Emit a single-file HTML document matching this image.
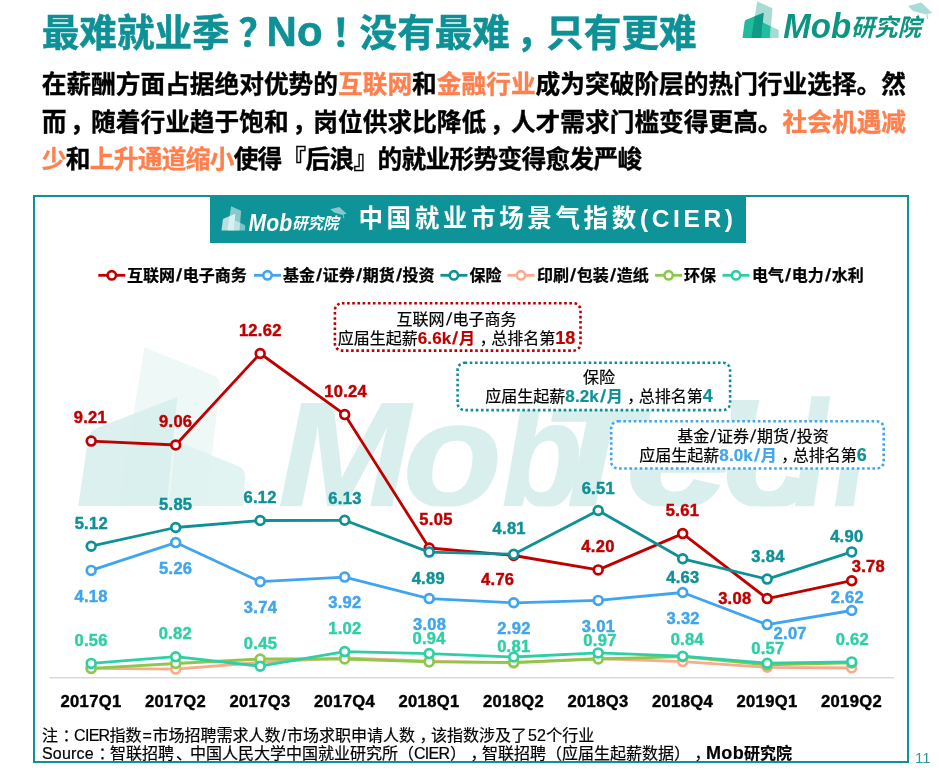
<!DOCTYPE html>
<html lang="zh-CN">
<head>
<meta charset="utf-8">
<title>最难就业季？No！没有最难，只有更难</title>
<style>
html,body{margin:0;padding:0;background:#fff;}
body{text-spacing-trim:space-all;width:939px;height:771px;position:relative;overflow:hidden;font-family:"Liberation Sans","Noto Sans CJK SC",sans-serif;color:#000;}
.abs{position:absolute;white-space:nowrap;}
#title{left:41.8px;top:4px;font-size:37.6px;font-weight:bold;color:#0e9196;line-height:56px;-webkit-text-stroke:0.5px #0e9196;}
.pu{position:relative;left:9px;}
#title .en{font-size:42px;margin-left:-0.7px;}
.p{left:41.7px;font-size:24.7px;font-weight:bold;line-height:36px;width:880px;-webkit-text-stroke:0.35px;}
.or{color:#ff7f4d;}
.pp{position:relative;left:3.6px;}
#frame{position:absolute;left:33px;top:195px;width:872px;height:564px;border:2.8px solid #0e9196;box-sizing:content-box;}
#banner{position:absolute;left:210.4px;top:195px;width:536px;height:47.6px;background:#0e9498;}
#btitle{left:358.4px;top:203px;font-size:24.5px;font-weight:bold;color:#fff;letter-spacing:3.65px;line-height:32px;}
.lg{top:265px;font-size:16px;font-weight:bold;line-height:22px;-webkit-text-stroke:0.25px;}
.sl{display:inline-block;width:7.8px;text-align:center;font-size:1.1em;line-height:1px;transform:skewX(-6deg);}
.note{left:42px;font-size:16px;line-height:20px;-webkit-text-stroke:0.2px;}
.ann{font-size:16px;line-height:19.2px;text-align:center;-webkit-text-stroke:0.2px;}
.ann b{font-weight:bold;}
.ann .n{font-size:17px;letter-spacing:0.1px;}
.ann .n2{font-size:18px;line-height:10px;}
.pc{position:relative;left:4.5px;}
#pn{left:915px;top:748.3px;font-size:15px;color:#2a9aa0;line-height:20px;}
svg{position:absolute;left:0;top:0;}
svg text{font-family:"Liberation Sans","Noto Sans CJK SC",sans-serif;}
</style>
</head>
<body>
<!-- watermark + chart -->
<svg width="939" height="771" viewBox="0 0 939 771">
  <clipPath id="wmclip"><rect x="0" y="300" width="939" height="206.3"/></clipPath>
  <g id="wm" clip-path="url(#wmclip)">
    <path d="M144.5 347.2 L213 375 Q220.5 378 220 386 L206 506 L118 506 Z" fill="#eef8f7"/>
    <path d="M98 427.6 L177.3 397 L167 506 L78.2 506 L88 439 Q89 431 98 427.6 Z" fill="#d6efec" fill-opacity="0.85"/>
    <path d="M175.5 440.5 L238 466 Q245.5 469 245.2 477 L243.4 506 L168.5 506 Z" fill="#ddf2ef" fill-opacity="0.85"/>
    <text transform="translate(0,505.8)" font-size="148" font-weight="bold" font-style="italic" fill="#d9efee" stroke="#d9efee" stroke-width="1.5"><tspan x="278" textLength="132" lengthAdjust="spacingAndGlyphs">M</tspan><tspan x="403" textLength="99" lengthAdjust="spacingAndGlyphs">o</tspan><tspan x="502" textLength="80" lengthAdjust="spacingAndGlyphs">b</tspan></text>
    <text transform="translate(0,505.8)" font-size="148" font-weight="bold" font-style="italic" fill="#d9efee" stroke="#d9efee" stroke-width="3.5"><tspan x="542" textLength="97.6" lengthAdjust="spacingAndGlyphs">T</tspan><tspan x="626.5" textLength="104" lengthAdjust="spacingAndGlyphs">e</tspan><tspan x="723.5" textLength="96" lengthAdjust="spacingAndGlyphs">c</tspan><tspan x="794.5" textLength="71" lengthAdjust="spacingAndGlyphs">h</tspan></text>
    <path d="M731 400 L759.5 400 L755 421 L731 421 Z" fill="#d9efee"/>
  </g>
  <line x1="49.5" y1="677.8" x2="894" y2="677.8" stroke="#d9d9d9" stroke-width="1.4"/>
  <g id="series">
<polyline points="91.2,441.1 175.7,445.0 260.2,353.5 344.7,414.6 429.2,548.0 513.7,555.5 598.2,569.9 682.7,533.6 767.2,598.6 851.7,580.7" fill="none" stroke="#c00000" stroke-width="2.8" stroke-linejoin="round"/>
<circle cx="91.2" cy="441.1" r="4.4" fill="#fff" stroke="#c00000" stroke-width="2.7"/>
<circle cx="175.7" cy="445.0" r="4.4" fill="#fff" stroke="#c00000" stroke-width="2.7"/>
<circle cx="260.2" cy="353.5" r="4.4" fill="#fff" stroke="#c00000" stroke-width="2.7"/>
<circle cx="344.7" cy="414.6" r="4.4" fill="#fff" stroke="#c00000" stroke-width="2.7"/>
<circle cx="429.2" cy="548.0" r="4.4" fill="#fff" stroke="#c00000" stroke-width="2.7"/>
<circle cx="513.7" cy="555.5" r="4.4" fill="#fff" stroke="#c00000" stroke-width="2.7"/>
<circle cx="598.2" cy="569.9" r="4.4" fill="#fff" stroke="#c00000" stroke-width="2.7"/>
<circle cx="682.7" cy="533.6" r="4.4" fill="#fff" stroke="#c00000" stroke-width="2.7"/>
<circle cx="767.2" cy="598.6" r="4.4" fill="#fff" stroke="#c00000" stroke-width="2.7"/>
<circle cx="851.7" cy="580.7" r="4.4" fill="#fff" stroke="#c00000" stroke-width="2.7"/>
<polyline points="91.2,570.4 175.7,542.6 260.2,581.7 344.7,577.1 429.2,598.6 513.7,602.8 598.2,600.4 682.7,592.5 767.2,624.6 851.7,610.5" fill="none" stroke="#41a5ee" stroke-width="2.8" stroke-linejoin="round"/>
<circle cx="91.2" cy="570.4" r="4.4" fill="#fff" stroke="#41a5ee" stroke-width="2.7"/>
<circle cx="175.7" cy="542.6" r="4.4" fill="#fff" stroke="#41a5ee" stroke-width="2.7"/>
<circle cx="260.2" cy="581.7" r="4.4" fill="#fff" stroke="#41a5ee" stroke-width="2.7"/>
<circle cx="344.7" cy="577.1" r="4.4" fill="#fff" stroke="#41a5ee" stroke-width="2.7"/>
<circle cx="429.2" cy="598.6" r="4.4" fill="#fff" stroke="#41a5ee" stroke-width="2.7"/>
<circle cx="513.7" cy="602.8" r="4.4" fill="#fff" stroke="#41a5ee" stroke-width="2.7"/>
<circle cx="598.2" cy="600.4" r="4.4" fill="#fff" stroke="#41a5ee" stroke-width="2.7"/>
<circle cx="682.7" cy="592.5" r="4.4" fill="#fff" stroke="#41a5ee" stroke-width="2.7"/>
<circle cx="767.2" cy="624.6" r="4.4" fill="#fff" stroke="#41a5ee" stroke-width="2.7"/>
<circle cx="851.7" cy="610.5" r="4.4" fill="#fff" stroke="#41a5ee" stroke-width="2.7"/>
<polyline points="91.2,546.2 175.7,527.5 260.2,520.5 344.7,520.3 429.2,552.1 513.7,554.2 598.2,510.5 682.7,558.8 767.2,579.1 851.7,551.9" fill="none" stroke="#0e9196" stroke-width="2.8" stroke-linejoin="round"/>
<circle cx="91.2" cy="546.2" r="4.4" fill="#fff" stroke="#0e9196" stroke-width="2.7"/>
<circle cx="175.7" cy="527.5" r="4.4" fill="#fff" stroke="#0e9196" stroke-width="2.7"/>
<circle cx="260.2" cy="520.5" r="4.4" fill="#fff" stroke="#0e9196" stroke-width="2.7"/>
<circle cx="344.7" cy="520.3" r="4.4" fill="#fff" stroke="#0e9196" stroke-width="2.7"/>
<circle cx="429.2" cy="552.1" r="4.4" fill="#fff" stroke="#0e9196" stroke-width="2.7"/>
<circle cx="513.7" cy="554.2" r="4.4" fill="#fff" stroke="#0e9196" stroke-width="2.7"/>
<circle cx="598.2" cy="510.5" r="4.4" fill="#fff" stroke="#0e9196" stroke-width="2.7"/>
<circle cx="682.7" cy="558.8" r="4.4" fill="#fff" stroke="#0e9196" stroke-width="2.7"/>
<circle cx="767.2" cy="579.1" r="4.4" fill="#fff" stroke="#0e9196" stroke-width="2.7"/>
<circle cx="851.7" cy="551.9" r="4.4" fill="#fff" stroke="#0e9196" stroke-width="2.7"/>
<polyline points="91.2,668.3 175.7,669.1 260.2,662.4 344.7,657.8 429.2,661.1 513.7,662.9 598.2,658.5 682.7,661.6 767.2,667.3 851.7,668.0" fill="none" stroke="#faab8c" stroke-width="2.8" stroke-linejoin="round"/>
<circle cx="91.2" cy="668.3" r="4.4" fill="#fff" stroke="#faab8c" stroke-width="2.7"/>
<circle cx="175.7" cy="669.1" r="4.4" fill="#fff" stroke="#faab8c" stroke-width="2.7"/>
<circle cx="260.2" cy="662.4" r="4.4" fill="#fff" stroke="#faab8c" stroke-width="2.7"/>
<circle cx="344.7" cy="657.8" r="4.4" fill="#fff" stroke="#faab8c" stroke-width="2.7"/>
<circle cx="429.2" cy="661.1" r="4.4" fill="#fff" stroke="#faab8c" stroke-width="2.7"/>
<circle cx="513.7" cy="662.9" r="4.4" fill="#fff" stroke="#faab8c" stroke-width="2.7"/>
<circle cx="598.2" cy="658.5" r="4.4" fill="#fff" stroke="#faab8c" stroke-width="2.7"/>
<circle cx="682.7" cy="661.6" r="4.4" fill="#fff" stroke="#faab8c" stroke-width="2.7"/>
<circle cx="767.2" cy="667.3" r="4.4" fill="#fff" stroke="#faab8c" stroke-width="2.7"/>
<circle cx="851.7" cy="668.0" r="4.4" fill="#fff" stroke="#faab8c" stroke-width="2.7"/>
<polyline points="91.2,668.4 175.7,663.5 260.2,659.0 344.7,659.0 429.2,661.9 513.7,662.4 598.2,659.0 682.7,656.7 767.2,664.9 851.7,662.9" fill="none" stroke="#8dc84b" stroke-width="2.8" stroke-linejoin="round"/>
<circle cx="91.2" cy="668.4" r="4.4" fill="#fff" stroke="#8dc84b" stroke-width="2.7"/>
<circle cx="175.7" cy="663.5" r="4.4" fill="#fff" stroke="#8dc84b" stroke-width="2.7"/>
<circle cx="260.2" cy="659.0" r="4.4" fill="#fff" stroke="#8dc84b" stroke-width="2.7"/>
<circle cx="344.7" cy="659.0" r="4.4" fill="#fff" stroke="#8dc84b" stroke-width="2.7"/>
<circle cx="429.2" cy="661.9" r="4.4" fill="#fff" stroke="#8dc84b" stroke-width="2.7"/>
<circle cx="513.7" cy="662.4" r="4.4" fill="#fff" stroke="#8dc84b" stroke-width="2.7"/>
<circle cx="598.2" cy="659.0" r="4.4" fill="#fff" stroke="#8dc84b" stroke-width="2.7"/>
<circle cx="682.7" cy="656.7" r="4.4" fill="#fff" stroke="#8dc84b" stroke-width="2.7"/>
<circle cx="767.2" cy="664.9" r="4.4" fill="#fff" stroke="#8dc84b" stroke-width="2.7"/>
<circle cx="851.7" cy="662.9" r="4.4" fill="#fff" stroke="#8dc84b" stroke-width="2.7"/>
<polyline points="91.2,663.4 175.7,656.7 260.2,666.2 344.7,651.6 429.2,653.6 513.7,657.0 598.2,652.9 682.7,656.2 767.2,663.2 851.7,661.9" fill="none" stroke="#2fcfa6" stroke-width="2.8" stroke-linejoin="round"/>
<circle cx="91.2" cy="663.4" r="4.4" fill="#fff" stroke="#2fcfa6" stroke-width="2.7"/>
<circle cx="175.7" cy="656.7" r="4.4" fill="#fff" stroke="#2fcfa6" stroke-width="2.7"/>
<circle cx="260.2" cy="666.2" r="4.4" fill="#fff" stroke="#2fcfa6" stroke-width="2.7"/>
<circle cx="344.7" cy="651.6" r="4.4" fill="#fff" stroke="#2fcfa6" stroke-width="2.7"/>
<circle cx="429.2" cy="653.6" r="4.4" fill="#fff" stroke="#2fcfa6" stroke-width="2.7"/>
<circle cx="513.7" cy="657.0" r="4.4" fill="#fff" stroke="#2fcfa6" stroke-width="2.7"/>
<circle cx="598.2" cy="652.9" r="4.4" fill="#fff" stroke="#2fcfa6" stroke-width="2.7"/>
<circle cx="682.7" cy="656.2" r="4.4" fill="#fff" stroke="#2fcfa6" stroke-width="2.7"/>
<circle cx="767.2" cy="663.2" r="4.4" fill="#fff" stroke="#2fcfa6" stroke-width="2.7"/>
<circle cx="851.7" cy="661.9" r="4.4" fill="#fff" stroke="#2fcfa6" stroke-width="2.7"/>
  </g>
  <g font-size="16.5" font-weight="bold" text-anchor="middle" letter-spacing="0.3" stroke-width="0.45">
<text x="90.4" y="423.2" fill="#c00000" stroke="#c00000">9.21</text>
<text x="175.7" y="427.0" fill="#c00000" stroke="#c00000">9.06</text>
<text x="260.3" y="336.2" fill="#c00000" stroke="#c00000">12.62</text>
<text x="345.6" y="397.1" fill="#c00000" stroke="#c00000">10.24</text>
<text x="436" y="525.0" fill="#c00000" stroke="#c00000">5.05</text>
<text x="497.7" y="585.0999999999999" fill="#c00000" stroke="#c00000">4.76</text>
<text x="598" y="552.3" fill="#c00000" stroke="#c00000">4.20</text>
<text x="682.5" y="516.1999999999999" fill="#c00000" stroke="#c00000">5.61</text>
<text x="734.8" y="604.0999999999999" fill="#c00000" stroke="#c00000">3.08</text>
<text x="868.4" y="571.9" fill="#c00000" stroke="#c00000">3.78</text>
<text x="91.3" y="529.3" fill="#0e9196" stroke="#0e9196">5.12</text>
<text x="175.7" y="510.2" fill="#0e9196" stroke="#0e9196">5.85</text>
<text x="260.1" y="503.1" fill="#0e9196" stroke="#0e9196">6.12</text>
<text x="345" y="503.6" fill="#0e9196" stroke="#0e9196">6.13</text>
<text x="428.3" y="583.8" fill="#0e9196" stroke="#0e9196">4.89</text>
<text x="509.2" y="533.9" fill="#0e9196" stroke="#0e9196">4.81</text>
<text x="598.3" y="493.6" fill="#0e9196" stroke="#0e9196">6.51</text>
<text x="682.9" y="582.8" fill="#0e9196" stroke="#0e9196">4.63</text>
<text x="768" y="562.0999999999999" fill="#0e9196" stroke="#0e9196">3.84</text>
<text x="846.8" y="541.8" fill="#0e9196" stroke="#0e9196">4.90</text>
<text x="91.1" y="601.8" fill="#41a5ee" stroke="#41a5ee">4.18</text>
<text x="175.7" y="573.8" fill="#41a5ee" stroke="#41a5ee">5.26</text>
<text x="260.5" y="613.0" fill="#41a5ee" stroke="#41a5ee">3.74</text>
<text x="344.9" y="608.3" fill="#41a5ee" stroke="#41a5ee">3.92</text>
<text x="429.6" y="629.8" fill="#41a5ee" stroke="#41a5ee">3.08</text>
<text x="514" y="633.5999999999999" fill="#41a5ee" stroke="#41a5ee">2.92</text>
<text x="598.5" y="631.8" fill="#41a5ee" stroke="#41a5ee">3.01</text>
<text x="683.2" y="623.8" fill="#41a5ee" stroke="#41a5ee">3.32</text>
<text x="790.2" y="639.0" fill="#41a5ee" stroke="#41a5ee">2.07</text>
<text x="847.4" y="603.0" fill="#41a5ee" stroke="#41a5ee">2.62</text>
<text x="91.1" y="645.6999999999999" fill="#2fcfa6" stroke="#2fcfa6">0.56</text>
<text x="175.3" y="638.8" fill="#2fcfa6" stroke="#2fcfa6">0.82</text>
<text x="260.5" y="648.8" fill="#2fcfa6" stroke="#2fcfa6">0.45</text>
<text x="344.9" y="634.0999999999999" fill="#2fcfa6" stroke="#2fcfa6">1.02</text>
<text x="429.1" y="644.3" fill="#2fcfa6" stroke="#2fcfa6">0.94</text>
<text x="513.8" y="652.1999999999999" fill="#2fcfa6" stroke="#2fcfa6">0.81</text>
<text x="600" y="646.4" fill="#2fcfa6" stroke="#2fcfa6">0.97</text>
<text x="687.3" y="645.0999999999999" fill="#2fcfa6" stroke="#2fcfa6">0.84</text>
<text x="767.9" y="654.0" fill="#2fcfa6" stroke="#2fcfa6">0.57</text>
<text x="852.4" y="645.0999999999999" fill="#2fcfa6" stroke="#2fcfa6">0.62</text>
  </g>
  <g font-size="16.6" font-weight="bold" text-anchor="middle" fill="#000" stroke="#000" stroke-width="0.4" letter-spacing="0.35">
<text x="91.0" y="706.8">2017Q1</text>
<text x="175.5" y="706.8">2017Q2</text>
<text x="260.0" y="706.8">2017Q3</text>
<text x="344.5" y="706.8">2017Q4</text>
<text x="429.0" y="706.8">2018Q1</text>
<text x="513.5" y="706.8">2018Q2</text>
<text x="598.0" y="706.8">2018Q3</text>
<text x="682.5" y="706.8">2018Q4</text>
<text x="767.0" y="706.8">2019Q1</text>
<text x="851.5" y="706.8">2019Q2</text>
  </g>
  <g id="legend">
<line x1="98.3" y1="275.3" x2="125.3" y2="275.3" stroke="#c00000" stroke-width="2.8"/><circle cx="111.8" cy="275.3" r="4.2" fill="#fff" stroke="#c00000" stroke-width="2.6"/>
<line x1="254" y1="275.3" x2="281" y2="275.3" stroke="#41a5ee" stroke-width="2.8"/><circle cx="267.5" cy="275.3" r="4.2" fill="#fff" stroke="#41a5ee" stroke-width="2.6"/>
<line x1="440.4" y1="275.3" x2="467.4" y2="275.3" stroke="#0e9196" stroke-width="2.8"/><circle cx="453.9" cy="275.3" r="4.2" fill="#fff" stroke="#0e9196" stroke-width="2.6"/>
<line x1="507.5" y1="275.3" x2="534.5" y2="275.3" stroke="#faab8c" stroke-width="2.8"/><circle cx="521.0" cy="275.3" r="4.2" fill="#fff" stroke="#faab8c" stroke-width="2.6"/>
<line x1="655.1" y1="275.3" x2="682.1" y2="275.3" stroke="#8dc84b" stroke-width="2.8"/><circle cx="668.6" cy="275.3" r="4.2" fill="#fff" stroke="#8dc84b" stroke-width="2.6"/>
<line x1="722.5" y1="275.3" x2="749.5" y2="275.3" stroke="#2fcfa6" stroke-width="2.8"/><circle cx="736.0" cy="275.3" r="4.2" fill="#fff" stroke="#2fcfa6" stroke-width="2.6"/>
  </g>
</svg>

<div id="frame"></div>
<div id="banner"></div>

<div id="title" class="abs">最难就业季<span class="pu" style="left:8.7px">？</span><span class="en">No</span><span class="pu" style="left:9px;margin-right:-0.6px">！</span>没有最难<span class="pu" style="left:6.4px;margin-right:-1.2px">，</span>只有更难</div>
<div class="abs p" style="top:66.7px;letter-spacing:0.006px;">在薪酬方面占据绝对优势的<span class="or">互联网</span>和<span class="or">金融行业</span>成为突破阶层的热门行业选择。然</div>
<div class="abs p" style="top:104.7px;letter-spacing:0.006px;">而<span class="pp">，</span>随着行业趋于饱和<span class="pp">，</span>岗位供求比降低<span class="pp">，</span>人才需求门槛变得更高。<span class="or">社会机遇减</span></div>
<div class="abs p" style="top:142.1px;letter-spacing:-0.7px;"><span class="or">少</span>和<span class="or">上升通道缩小</span>使得『后浪』的就业形势变得愈发严峻</div>

<!-- top right logo -->
<svg width="939" height="60" viewBox="0 0 939 60">
  <path d="M757.2 1.3 L772.5 8.3 L770 38.1 L751.4 38.1 Z" fill="#a9dbd5"/>
  <path d="M778.6 30 L778.6 38.1 L769.9 38.1 L770.7 26.2 Z" fill="#a4dbd2"/>
  <path d="M746.2 19.8 L763.6 12.8 L761.6 38.1 L742.5 38.1 L744.6 22 Q744.9 20.4 746.2 19.8 Z" fill="#22bb9c"/>
  <path d="M754.6 16.4 L763.6 12.8 L761.6 38.1 L751.4 38.1 Z" fill="#0f9987"/>
  <path d="M762.9 22.4 L770.7 26.2 L769.9 38.1 L761.6 38.1 Z" fill="#1ebf9f"/>
  <text x="783.2" y="38.1" font-size="35" font-weight="bold" font-style="italic" fill="#0e9581" textLength="68" lengthAdjust="spacingAndGlyphs">Mob</text>
  <text x="851" y="36" font-size="24" font-weight="bold" font-style="italic" fill="#0e9581" textLength="70" lengthAdjust="spacingAndGlyphs">研究院</text>
  <path d="M908 5.9 L921.3 2.4 L932.3 12.9 L925 14.3 L913 10.9 Z" fill="#a8dcd6"/>
  <path d="M926.8 13.5 L927.8 19.2" stroke="#a8dcd6" stroke-width="1.1" fill="none"/>
</svg>

<!-- banner contents -->
<svg width="939" height="260" viewBox="0 0 939 260">
  <g transform="translate(221.5,206.2) scale(0.655,0.66) translate(-742.5,-1.3)">
    <path d="M757.2 1.3 L772.5 8.3 L770 38.1 L751.4 38.1 Z" fill="#fff" fill-opacity="0.5"/>
    <path d="M762.9 22.4 L778.6 30 L778.6 38.1 L761.6 38.1 Z" fill="#fff" fill-opacity="0.45"/>
    <path d="M746.2 19.8 L763.6 12.8 L761.6 38.1 L742.5 38.1 L744.6 22 Q744.9 20.4 746.2 19.8 Z" fill="#fff" fill-opacity="0.7"/>
  </g>
  <text x="248.6" y="230.5" font-size="23" font-weight="bold" font-style="italic" fill="#fff" textLength="43.5" lengthAdjust="spacingAndGlyphs">Mob</text>
  <text x="292" y="229.3" font-size="16" font-weight="bold" font-style="italic" fill="#fff" textLength="46.5" lengthAdjust="spacingAndGlyphs">研究院</text>
  <path d="M330.3 209.2 L339.2 206.9 L346.7 213.8 L342 214.8 L334 212.5 Z" fill="#fff" fill-opacity="0.5"/>
  <path d="M343.2 214.3 L343.9 218.5" stroke="#fff" stroke-opacity="0.5" stroke-width="0.9" fill="none"/>
</svg>
<div id="btitle" class="abs">中国就业市场景气指数(CIER)</div>

<!-- legend text -->
<div class="abs lg" style="left:127px;">互联网<span class="sl">/</span>电子商务</div>
<div class="abs lg" style="left:283px;">基金<span class="sl">/</span>证券<span class="sl">/</span>期货<span class="sl">/</span>投资</div>
<div class="abs lg" style="left:469.5px;">保险</div>
<div class="abs lg" style="left:537px;">印刷<span class="sl">/</span>包装<span class="sl">/</span>造纸</div>
<div class="abs lg" style="left:684px;">环保</div>
<div class="abs lg" style="left:752px;">电气<span class="sl">/</span>电力<span class="sl">/</span>水利</div>

<!-- annotation boxes -->
<svg width="939" height="771" viewBox="0 0 939 771">
  <rect x="334.9" y="303.2" width="245.6" height="47.4" rx="7" ry="7" fill="#fff" stroke="#c00000" stroke-width="2.6" stroke-dasharray="2.6 2.57"/>
  <rect x="457.6" y="362.8" width="272.5" height="47.3" rx="7" ry="7" fill="#fff" stroke="#0e9196" stroke-width="2.6" stroke-dasharray="2.6 2.57"/>
  <rect x="611.2" y="421.2" width="272.5" height="47.3" rx="7" ry="7" fill="#fff" stroke="#41a5ee" stroke-width="2.6" stroke-dasharray="2.6 2.57"/>
</svg>
<div class="abs ann" style="left:333px;width:247px;top:309.5px;">互联网<span class="sl">/</span>电子商务<br>应届生起薪<b style="color:#c00000"><span class="n">6.6k</span><span class="sl">/</span>月</b><span class="pc">，</span>总排名第<b style="color:#c00000"><span class="n2">18</span></b></div>
<div class="abs ann" style="left:462px;width:274px;top:367.5px;">保险<br>应届生起薪<b style="color:#0e9196"><span class="n">8.2k</span><span class="sl">/</span>月</b><span class="pc">，</span>总排名第<b style="color:#0e9196"><span class="n2">4</span></b></div>
<div class="abs ann" style="left:616px;width:274px;top:427px;">基金<span class="sl">/</span>证券<span class="sl">/</span>期货<span class="sl">/</span>投资<br>应届生起薪<b style="color:#41a5ee"><span class="n">8.0k</span><span class="sl">/</span>月</b><span class="pc">，</span>总排名第<b style="color:#0e9196"><span class="n2">6</span></b></div>

<!-- footnotes -->
<div class="abs note" style="top:726.2px;">注<span class="pc">：</span><span style="letter-spacing:-0.7px">CIER</span>指数<span style="padding:0 0.9px">=</span>市场招聘需求人数<span style="padding:0 0.8px 0 1.2px">/</span>市场求职申请人数<span class="pc">，</span>该指数涉及了<span style="padding:0 0.4px 0 1px">52</span>个行业</div>
<div class="abs note" style="top:744.4px;"><span style="letter-spacing:0.2px">Source</span><span class="pc">：</span>智联招聘<span class="pc" style="left:2px">、</span>中国人民大学中国就业研究所（<span style="letter-spacing:-0.7px;margin-right:0.6px">CIER</span>）<span class="pc">，</span>智联招聘（应届生起薪数据）<span class="pc">，</span><b><span style="font-size:18px;line-height:10px;letter-spacing:0.3px">Mob</span>研究院</b></div>
<div id="pn" class="abs">11</div>
</body>
</html>
